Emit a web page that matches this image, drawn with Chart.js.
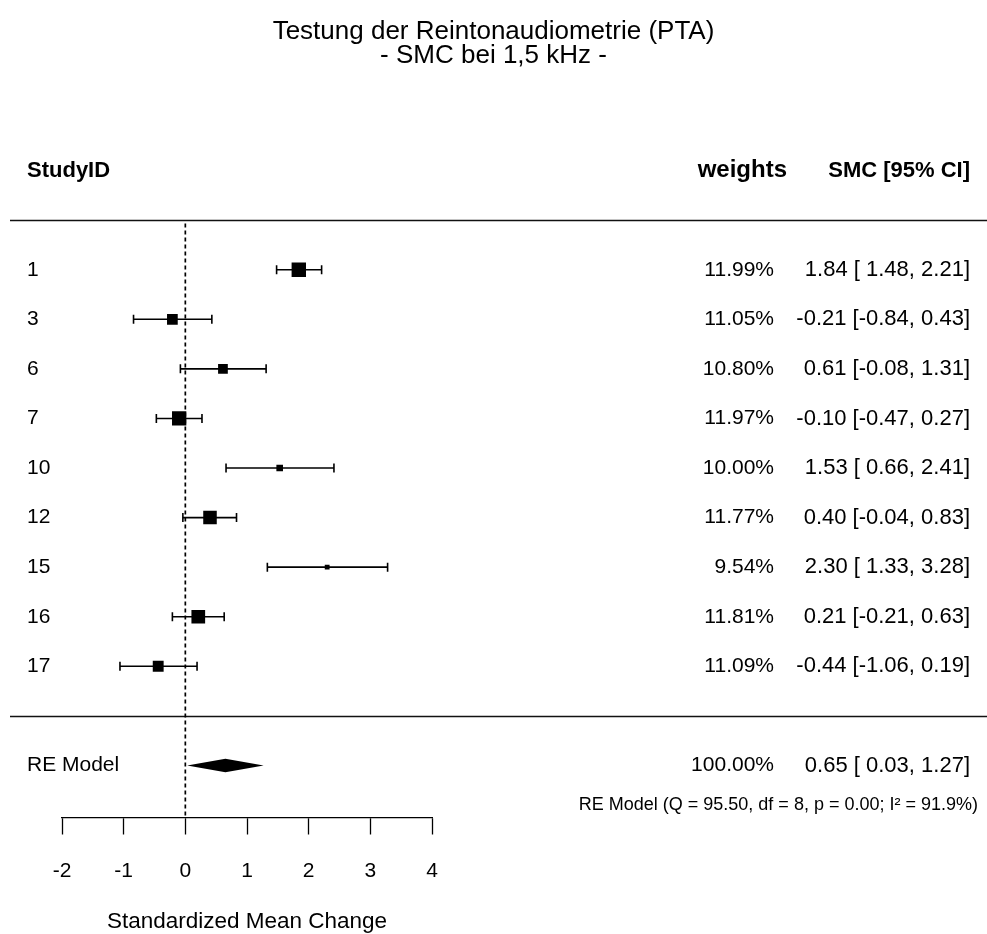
<!DOCTYPE html>
<html>
<head>
<meta charset="utf-8">
<script src="https://cdn.jsdelivr.net/npm/chart.js@4.4.1/dist/chart.umd.min.js"></script>
<style>
    body { margin: 0; background: #fff; }
    canvas { display: block; }
</style>
</head>
<body>
<canvas id="forest" width="987" height="934"></canvas>
<script>
const titleLines = ["Testung der Reintonaudiometrie (PTA)", "- SMC bei 1,5 kHz -"];
const studyIds = ["1", "3", "6", "7", "10", "12", "15", "16", "17"];
const weights = [11.99, 11.05, 10.80, 11.97, 10.00, 11.77, 9.54, 11.81, 11.09];
const smc = [1.84, -0.21, 0.61, -0.10, 1.53, 0.40, 2.30, 0.21, -0.44];
const ciLower = [1.48, -0.84, -0.08, -0.47, 0.66, -0.04, 1.33, -0.21, -1.06];
const ciUpper = [2.21, 0.43, 1.31, 0.27, 2.41, 0.83, 3.28, 0.63, 0.19];
const reLabel = "RE Model";
const reWeight = 100.00;
const reEstimate = 0.65;
const reLower = 0.03;
const reUpper = 1.27;
const reStats = "RE Model (Q = 95.50, df = 8, p = 0.00; I\u00b2 = 91.9%)";
const xTicks = [-2, -1, 0, 1, 2, 3, 4];
const xTitle = "Standardized Mean Change";

const FONT = "'Liberation Sans', Arial, Helvetica, sans-serif";

// rows: header = -2, studies 0..8, RE model = 10
const headerRow = -2;
const reRow = studyIds.length + 1;

const wMin = Math.min(...weights);
const wMax = Math.max(...weights);
const pointSides = weights.map(w => 9.6 * (0.5 + (w - wMin) / (wMax - wMin)));

function fmt(v, pad) {
    const s = v.toFixed(2);
    return (pad && v >= 0) ? " " + s : s;
}

function ciText(est, lb, ub) {
    return fmt(est, false) + " [" + fmt(lb, true) + ", " + fmt(ub, false) + "]";
}

const forestPlugin = {
    id: "forest",
    beforeDatasetsDraw(chart) {
        const ctx = chart.ctx;
        const x = chart.scales.x;
        const y = chart.scales.y;
        ctx.save();

        // full width separators
        ctx.strokeStyle = "#111";
        ctx.lineWidth = 1.5;
        [headerRow + 1, studyIds.length].forEach(r => {
            const py = Math.round(y.getPixelForValue(r)) + 0.5;
            ctx.beginPath();
            ctx.moveTo(10, py);
            ctx.lineTo(chart.width, py);
            ctx.stroke();
        });

        // reference line at 0
        ctx.setLineDash([4, 3]);
        ctx.lineWidth = 1.7;
        ctx.strokeStyle = "#000";
        const x0 = x.getPixelForValue(0);
        ctx.beginPath();
        ctx.moveTo(x0, y.getPixelForValue(headerRow + 1.07));
        ctx.lineTo(x0, chart.chartArea.bottom);
        ctx.stroke();
        ctx.setLineDash([]);

        // confidence intervals
        ctx.lineWidth = 1.6;
        ctx.strokeStyle = "#000";
        studyIds.forEach((id, i) => {
            const py = y.getPixelForValue(i);
            const xl = x.getPixelForValue(ciLower[i]);
            const xu = x.getPixelForValue(ciUpper[i]);
            ctx.beginPath();
            ctx.moveTo(xl, py);
            ctx.lineTo(xu, py);
            ctx.moveTo(xl, py - 4.5);
            ctx.lineTo(xl, py + 4.5);
            ctx.moveTo(xu, py - 4.5);
            ctx.lineTo(xu, py + 4.5);
            ctx.stroke();
        });

        // summary diamond
        const ry = y.getPixelForValue(reRow);
        ctx.fillStyle = "#000";
        ctx.beginPath();
        ctx.moveTo(x.getPixelForValue(reLower), ry);
        ctx.lineTo(x.getPixelForValue(reEstimate), ry - 6.7);
        ctx.lineTo(x.getPixelForValue(reUpper), ry);
        ctx.lineTo(x.getPixelForValue(reEstimate), ry + 6.7);
        ctx.closePath();
        ctx.fill();
        ctx.restore();
    },
    afterDraw(chart) {
        const ctx = chart.ctx;
        const y = chart.scales.y;
        ctx.save();
        ctx.fillStyle = "#000";
        ctx.textBaseline = "middle";

        ctx.textAlign = "center";
        ctx.font = "26px " + FONT;
        ctx.fillText(titleLines[0], chart.width / 2, 32);
        ctx.fillText(titleLines[1], chart.width / 2, 56);

        const hy = y.getPixelForValue(headerRow);
        ctx.textAlign = "left";
        ctx.font = "bold 22px " + FONT;
        ctx.fillText("StudyID", 27, hy);
        ctx.textAlign = "right";
        ctx.font = "bold 24px " + FONT;
        ctx.fillText("weights", 787, hy);
        ctx.font = "bold 22px " + FONT;
        ctx.fillText("SMC [95% CI]", 970, hy);

        studyIds.forEach((id, i) => {
            const py = y.getPixelForValue(i);
            ctx.font = "21px " + FONT;
            ctx.textAlign = "left";
            ctx.fillText(id, 27, py);
            ctx.textAlign = "right";
            ctx.fillText(weights[i].toFixed(2) + "%", 774, py);
            ctx.font = "22px " + FONT;
            ctx.fillText(ciText(smc[i], ciLower[i], ciUpper[i]), 970, py);
        });

        const ry = y.getPixelForValue(reRow);
        ctx.font = "21px " + FONT;
        ctx.textAlign = "left";
        ctx.fillText(reLabel, 27, ry);
        ctx.textAlign = "right";
        ctx.fillText(reWeight.toFixed(2) + "%", 774, ry);
        ctx.font = "22px " + FONT;
        ctx.fillText(ciText(reEstimate, reLower, reUpper), 970, ry);

        ctx.font = "18px " + FONT;
        ctx.fillText(reStats, 978, y.getPixelForValue(reRow + 0.8));
        ctx.restore();
    }
};

const ctx = document.getElementById("forest").getContext("2d");

window.forestChart = new Chart(ctx, {
    type: "scatter",
    data: {
        datasets: [{
            label: "SMC",
            data: smc.map((v, i) => ({ x: v, y: i })),
            pointStyle: "rect",
            pointRadius: pointSides.map(s => s / Math.SQRT2),
            pointHoverRadius: pointSides.map(s => s / Math.SQRT2),
            backgroundColor: "#000",
            borderColor: "#000",
            borderWidth: 0
        }]
    },
    options: {
        responsive: false,
        animation: false,
        devicePixelRatio: 1,
        layout: {
            padding: { left: 62, right: 555, top: 121, bottom: 1 }
        },
        plugins: {
            legend: { display: false },
            tooltip: { enabled: false },
            title: { display: false }
        },
        scales: {
            x: {
                type: "linear",
                min: xTicks[0],
                max: xTicks[xTicks.length - 1],
                afterBuildTicks: axis => {
                    axis.ticks = xTicks.map(v => ({ value: v }));
                },
                grid: {
                    drawOnChartArea: false,
                    drawTicks: true,
                    tickLength: 17,
                    tickColor: "#000",
                    tickWidth: 1.3
                },
                border: { display: true, color: "#000", width: 1.3 },
                ticks: {
                    color: "#000",
                    padding: 26,
                    maxRotation: 0,
                    font: { family: FONT, size: 21, lineHeight: 1 }
                },
                title: {
                    display: true,
                    text: xTitle,
                    color: "#000",
                    font: { family: FONT, size: 22.5, lineHeight: 1 },
                    padding: { top: 3, bottom: 0 }
                }
            },
            y: {
                type: "linear",
                display: false,
                reverse: true,
                min: -3,
                max: 11.05
            }
        }
    },
    plugins: [forestPlugin]
});
</script>
</body>
</html>
